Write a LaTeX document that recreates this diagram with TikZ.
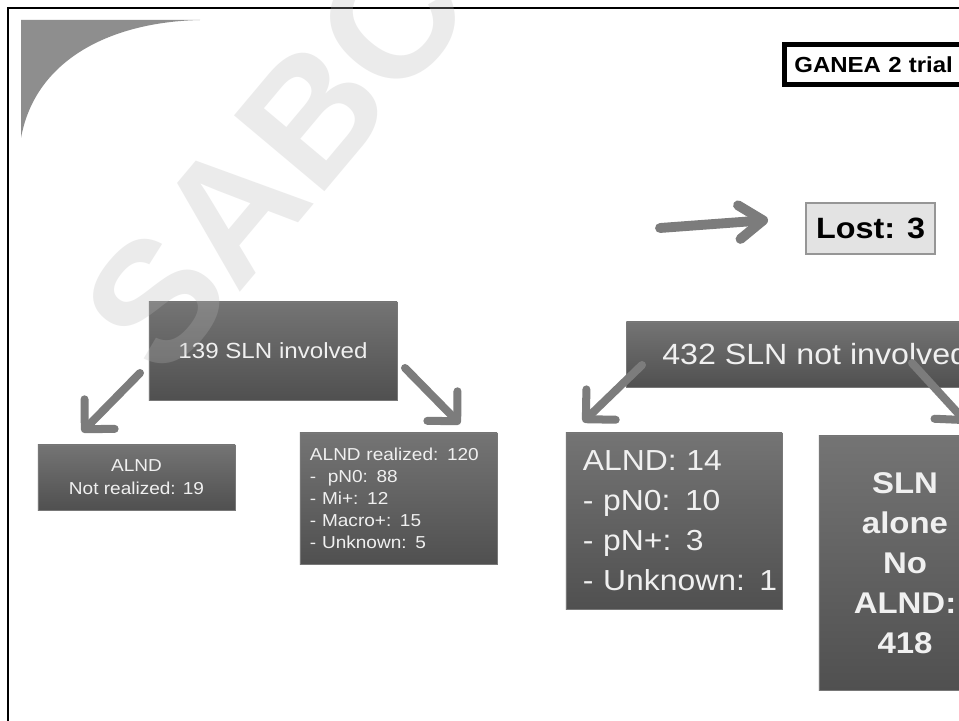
\documentclass[tikz,border=0pt]{standalone}
\usepackage{fontspec}
\setmainfont{Liberation Sans}[FakeStretch=1.1]
\newfontfamily\markfont{Liberation Sans}
\usetikzlibrary{arrows.meta}

\definecolor{boxtop}{RGB}{116,116,116}
\definecolor{boxbot}{RGB}{80,80,80}
\definecolor{boxedge}{RGB}{120,120,120}
\definecolor{boxtext}{RGB}{240,240,240}
\definecolor{arrowgray}{RGB}{124,124,124}
\definecolor{cornergray}{RGB}{142,142,142}
\definecolor{lostfill}{RGB}{227,227,227}
\definecolor{lostedge}{RGB}{150,150,150}
\definecolor{markgray}{RGB}{182,182,182}

\begin{document}
\begin{tikzpicture}[x=0.025cm, y=0.025cm,
  darkbox/.style={top color=boxtop, bottom color=boxbot, draw=boxedge,
    line width=0.4pt, text=boxtext, inner sep=0pt},
  flow/.style={draw=arrowgray, line width=5.7pt, line cap=round,
    -{Straight Barb[length=15pt, width=30pt, round]}},
  hflow/.style={draw=arrowgray, line width=7pt, line cap=round,
    -{Straight Barb[length=17pt, width=24pt, round]}}
]
\useasboundingbox (0,0) rectangle (959,-721);
\clip (0,0) rectangle (959,-721);
\fill[white] (0,0) rectangle (959,-721);

% page frame (top and left edges)
\draw[line width=2.1pt] (8,-730) -- (8,-8) -- (975,-8);

% decorative corner
\fill[cornergray] (21,-20) -- (200,-20)
  .. controls (110,-22) and (35,-60) .. (21,-138) -- cycle;

% title and lost-to-follow-up
\node[draw=black, line width=3.6pt, anchor=west, minimum height=1cm,
  text width=4.9cm, align=left, inner xsep=0.26cm, inner ysep=0pt,
  font=\bfseries\fontsize{15.5}{18}\selectfont] (ganea) at (781.5,-64.5) {GANEA 2 trial};

\node[fill=lostfill, draw=lostedge, line width=0.8pt, minimum width=3.225cm,
  minimum height=1.275cm, inner sep=0pt,
  font=\bfseries\fontsize{20.9}{24}\selectfont] (lost) at (870.5,-228.5) {Lost: 3};

\coordinate (hs) at (660,-228);
\coordinate (he) at (768,-220);
\draw[hflow] (hs) -- (he);

% involved branch
\node[darkbox, minimum width=6.2cm, minimum height=2.45cm,
  font=\fontsize{15.6}{18}\selectfont] (inv) at (273,-351) {139 SLN involved};

\node[darkbox, minimum width=4.925cm, minimum height=1.625cm, align=center,
  font=\fontsize{12.3}{16.4}\selectfont] (nr) at (136.5,-477.5) {ALND\\Not realized: 19};

\node[darkbox, minimum width=4.925cm, minimum height=3.275cm, text width=4.425cm,
  align=left, font=\fontsize{12.3}{15.6}\selectfont] (re) at (398.5,-498.5)
  {\mbox{ALND realized: 120}\\\mbox{-~ pN0: 88}\\\mbox{- Mi+: 12}\\\mbox{- Macro+: 15}\\\mbox{- Unknown: 5}};

\coordinate (l1s) at (140,-373);
\coordinate (l1e) at (82,-432);
\coordinate (r1s) at (405,-368);
\coordinate (r1e) at (460,-424);
\draw[flow] (l1s) -- (l1e);
\draw[flow] (r1s) -- (r1e);

% not-involved branch
\node[darkbox, anchor=west, minimum height=1.625cm, inner xsep=0.9cm,
  font=\fontsize{20.8}{24}\selectfont] (ninv) at (626,-354.5) {432 SLN not involved};

\node[darkbox, minimum width=5.4cm, minimum height=4.4cm, text width=4.55cm,
  align=left, font=\fontsize{20.6}{28.5}\selectfont] (a14) at (674,-521)
  {\mbox{ALND: 14}\\\mbox{- pN0: 10}\\\mbox{- pN+: 3}\\\mbox{- Unknown: 1}};

\node[darkbox, minimum width=4.3cm, minimum height=6.35cm, text width=4.3cm,
  align=center, font=\bfseries\fontsize{21.3}{28.5}\selectfont] (alone) at (905,-563)
  {SLN\\alone\\No\\ALND:\\418};

\coordinate (l2s) at (642,-365);
\coordinate (l2e) at (583,-422);
\coordinate (r2s) at (912,-363);
\coordinate (r2e) at (967,-423);
\draw[flow] (l2s) -- (l2e);
\draw[flow] (r2s) -- (r2e);

% watermark
\node[rotate=50, anchor=base west, inner sep=0pt, text=markgray, text opacity=0.27,
  font=\markfont\bfseries\fontsize{122}{122}\selectfont] (mark) at (164,-383) {SABC};
\end{tikzpicture}
\end{document}
